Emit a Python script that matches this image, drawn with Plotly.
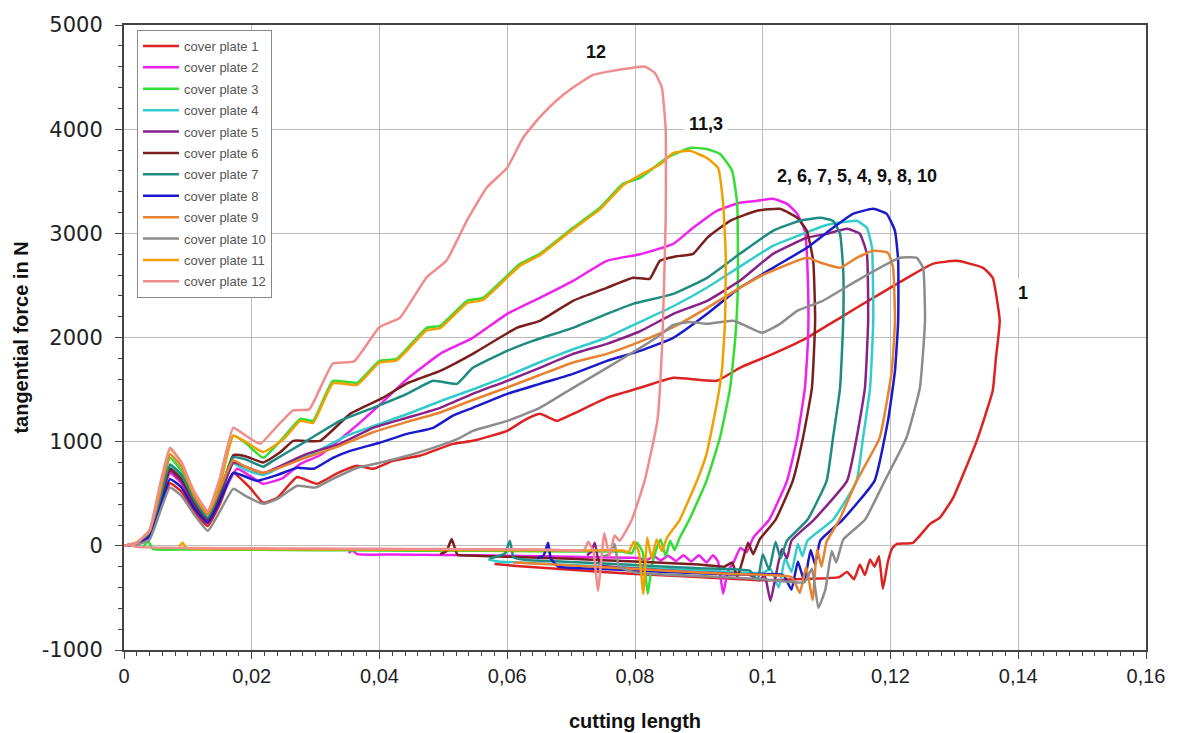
import plotly.graph_objects as go

# ---------------- data (x = cutting length, y = tangential force in N) ----------------
cp1 = [(0,0),(0.002,15),(0.004,80),(0.0055,320),(0.0072,600),(0.009,520),(0.011,330),(0.0131,190),(0.015,400),(0.0171,700),
       (0.0197,560),(0.0218,413),(0.024,461),(0.0271,660),(0.0302,595),(0.0335,700),(0.0365,768),(0.039,739),(0.0421,816),(0.0463,864),
       (0.0515,979),(0.0546,1008),(0.06,1104),(0.0625,1200),(0.0651,1267),(0.0678,1200),(0.0703,1267),(0.0756,1421),(0.0808,1517),(0.086,1613),
       (0.0928,1584),(0.0964,1709),(0.1016,1843),(0.1069,1997),(0.1121,2189),(0.1173,2381),(0.1226,2573),(0.1266,2707),(0.1304,2736),(0.1345,2669),
       (0.136,2573),(0.1371,2160),(0.1365,1800),(0.136,1488),(0.1335,1008),(0.1298,461),(0.1277,269),(0.1262,211),(0.1235,29),(0.121,19),
       (0.1203,-20),(0.1196,-150),(0.1188,-413),(0.1182,-100),(0.1175,-200),(0.1168,-130),(0.116,-280),(0.1152,-180),(0.1143,-320),(0.1132,-250),
       (0.112,-300),(0.110,-310),(0.105,-320),(0.1,-330),(0.09,-300),(0.08,-270),(0.07,-230),(0.062,-195),(0.058,-175)]

cp2 = [(0,0),(0.002,20),(0.004,100),(0.0055,380),(0.0072,700),(0.009,600),(0.011,380),(0.0131,230),(0.015,450),(0.0177,740),
       (0.0195,680),(0.0218,595),(0.0249,653),(0.0276,787),(0.0307,870),(0.0338,1020),(0.0369,1180),(0.0405,1380),(0.0443,1600),(0.0495,1843),
       (0.0546,1997),(0.06,2227),(0.0651,2381),(0.0703,2544),(0.0756,2736),(0.0808,2800),(0.086,2899),(0.0891,3053),(0.0928,3216),(0.0964,3293),
       (0.0991,3312),(0.1016,3331),(0.1038,3283),(0.1054,3187),(0.1066,3024),(0.1071,2477),(0.1071,1997),(0.1066,1517),(0.1054,1037),(0.1038,624),
       (0.101,250),(0.0985,77),(0.0975,-60),(0.0965,-20),(0.0955,-150),(0.0945,-250),(0.0938,-460),(0.093,-150),(0.0922,-90),(0.0912,-160),
       (0.09,-90),(0.0888,-150),(0.0876,-90),(0.0864,-145),(0.0852,-95),(0.084,-140),(0.083,-100),(0.082,-130),(0.08,-115),(0.07,-105),
       (0.06,-95),(0.05,-88),(0.042,-83),(0.0365,-80),(0.0357,-40),(0.0352,-70)]

cp3 = [(0,0),(0.002,20),(0.0035,60),(0.0055,450),(0.0072,845),(0.009,720),(0.011,480),(0.0131,300),(0.015,580),(0.0171,1060),
       (0.019,990),(0.0218,845),(0.0249,1037),(0.0276,1219),(0.0296,1200),(0.0327,1584),(0.0365,1565),(0.04,1776),(0.0427,1795),(0.0474,2093),
       (0.0495,2112),(0.0537,2352),(0.0562,2381),(0.062,2707),(0.0651,2803),(0.0703,3053),(0.0745,3245),(0.0781,3475),(0.0808,3533),(0.085,3725),
       (0.0886,3820),(0.0912,3810),(0.0933,3763),(0.0952,3600),(0.096,3283),(0.0961,2477),(0.0957,1997),(0.0949,1517),(0.0933,1037),(0.0912,624),
       (0.0885,250),(0.087,77),(0.0862,-40),(0.0855,50),(0.0848,-100),(0.084,60),(0.0832,-60),(0.0826,-200),(0.082,-460),(0.0812,-60),
       (0.0803,30),(0.0795,-70),(0.078,-55),(0.07,-55),(0.06,-50),(0.05,-47),(0.04,-45),(0.03,-42),(0.02,-38),(0.01,-35),
       (0.0045,-30),(0.0038,45),(0.003,-10)]

cp4 = [(0,0),(0.002,20),(0.004,110),(0.0055,400),(0.0072,760),(0.009,660),(0.011,430),(0.0131,250),(0.015,480),(0.0171,790),
       (0.019,730),(0.0218,680),(0.025,770),(0.03,900),(0.035,1060),(0.04,1170),(0.045,1280),(0.05,1400),(0.055,1510),(0.06,1630),
       (0.065,1760),(0.07,1880),(0.0756,2000),(0.0808,2150),(0.086,2300),(0.0913,2480),(0.0964,2680),(0.1016,2880),(0.1069,3010),(0.11,3080),
       (0.1147,3120),(0.1163,3053),(0.1171,2861),(0.1173,2160),(0.1168,1517),(0.1157,1037),(0.1147,624),(0.111,250),(0.107,50),(0.1062,-100),
       (0.1055,20),(0.1045,-250),(0.1035,-120),(0.1025,-400),(0.1012,-220),(0.1,-260),(0.09,-235),(0.08,-210),(0.07,-185),(0.063,-165),
       (0.0585,-150),(0.057,-130)]

cp5 = [(0,0),(0.002,20),(0.004,100),(0.0055,380),(0.0072,720),(0.009,620),(0.011,400),(0.0131,240),(0.015,470),(0.0171,800),
       (0.019,760),(0.0218,700),(0.0286,883),(0.0338,979),(0.039,1133),(0.0443,1229),(0.0495,1325),(0.0546,1459),(0.06,1584),(0.0651,1709),
       (0.0703,1843),(0.0756,1939),(0.0808,2060),(0.086,2227),(0.0913,2352),(0.0964,2544),(0.1016,2803),(0.1069,2957),(0.11,2995),(0.1132,3043),
       (0.1152,2995),(0.1163,2803),(0.1165,2160),(0.116,1517),(0.1147,1037),(0.1132,624),(0.108,250),(0.1045,50),(0.1038,-120),(0.103,-30),
       (0.102,-300),(0.1012,-530),(0.1003,-280),(0.0995,-330),(0.098,-280),(0.09,-255),(0.083,-230),(0.078,-210),(0.0748,-190),(0.0742,-120),
       (0.0737,30),(0.0731,-60),(0.0725,-90)]

cp6 = [(0,0),(0.002,20),(0.004,110),(0.0055,400),(0.0072,740),(0.009,640),(0.011,420),(0.0131,260),(0.015,500),(0.0171,870),
       (0.019,860),(0.0218,800),(0.0245,900),(0.0265,1008),(0.0307,1008),(0.0354,1267),(0.0405,1420),(0.0443,1560),(0.0495,1680),(0.0546,1843),
       (0.0615,2093),(0.0651,2160),(0.0703,2352),(0.0756,2477),(0.0797,2573),(0.0823,2563),(0.0839,2736),(0.0865,2780),(0.0891,2803),(0.0913,2957),
       (0.0949,3120),(0.0991,3216),(0.1027,3235),(0.1054,3149),(0.1069,3024),(0.1079,2736),(0.1082,2160),(0.1077,1517),(0.1063,1037),(0.1047,624),
       (0.102,250),(0.0995,60),(0.0985,-80),(0.0977,30),(0.0968,-150),(0.096,-300),(0.0952,-160),(0.094,-200),(0.09,-180),(0.08,-150),
       (0.07,-125),(0.06,-105),(0.054,-92),(0.0522,-85),(0.0513,65),(0.0505,-50),(0.0495,-80)]

cp7 = [(0,0),(0.002,20),(0.004,120),(0.0055,420),(0.0072,780),(0.009,680),(0.011,440),(0.0131,270),(0.015,520),(0.0171,850),
       (0.019,830),(0.0218,760),(0.0233,816),(0.0286,1008),(0.0338,1200),(0.039,1325),(0.0443,1459),(0.0484,1584),(0.0521,1555),(0.0546,1709),
       (0.06,1872),(0.064,1968),(0.0703,2093),(0.0756,2227),(0.0797,2323),(0.086,2419),(0.0913,2573),(0.0964,2803),(0.1016,3024),(0.1058,3120),
       (0.109,3149),(0.111,3120),(0.1121,2995),(0.1126,2640),(0.1126,2160),(0.1121,1517),(0.111,1037),(0.11,624),(0.107,250),(0.1038,50),
       (0.1028,-120),(0.102,40),(0.101,-230),(0.1,-80),(0.0992,-330),(0.098,-240),(0.09,-215),(0.08,-185),(0.07,-155),(0.063,-135),
       (0.061,-110),(0.0604,50),(0.0597,-70),(0.058,-110),(0.0572,-120)]

cp8 = [(0,0),(0.002,20),(0.004,90),(0.0055,330),(0.0072,640),(0.009,560),(0.011,360),(0.0131,220),(0.015,430),(0.0171,701),
       (0.0208,624),(0.024,680),(0.0271,749),(0.0297,740),(0.0327,845),(0.0354,912),(0.04,990),(0.0443,1075),(0.0484,1133),(0.0515,1250),
       (0.0546,1325),(0.06,1459),(0.0651,1555),(0.0703,1651),(0.0756,1776),(0.0808,1872),(0.086,1997),(0.0913,2227),(0.0964,2477),(0.1016,2669),
       (0.1069,2861),(0.111,3053),(0.1141,3187),(0.1173,3235),(0.1194,3187),(0.1207,3024),(0.1212,2736),(0.1212,2160),(0.1207,1680),(0.1196,1200),
       (0.1175,624),(0.1125,250),(0.109,50),(0.1082,-180),(0.1075,-40),(0.1065,-340),(0.1055,-150),(0.1045,-420),(0.1032,-280),(0.095,-275),
       (0.085,-250),(0.075,-222),(0.068,-200),(0.0668,-120),(0.0664,30),(0.0657,-90),(0.0647,-120)]

cp9 = [(0,0),(0.002,30),(0.004,140),(0.0055,480),(0.0072,880),(0.009,760),(0.011,480),(0.0131,300),(0.015,550),(0.0171,820),
       (0.019,760),(0.0218,700),(0.0286,850),(0.0338,960),(0.039,1090),(0.0443,1190),(0.0495,1280),(0.0546,1400),(0.06,1520),(0.0651,1640),
       (0.0703,1760),(0.0756,1843),(0.0808,1960),(0.086,2100),(0.0913,2285),(0.0964,2477),(0.1,2600),(0.1069,2765),(0.109,2720),(0.1121,2669),
       (0.1147,2765),(0.1173,2832),(0.1196,2813),(0.1204,2669),(0.1207,2160),(0.1202,1680),(0.1183,1037),(0.1147,624),(0.112,250),(0.110,40),
       (0.1092,-200),(0.1085,-30),(0.1078,-520),(0.1068,-200),(0.1058,-450),(0.1045,-300),(0.095,-270),(0.085,-240),(0.075,-205),(0.066,-175),
       (0.061,-160)]

cp10 = [(0,0),(0.002,10),(0.004,60),(0.0055,300),(0.0072,560),(0.009,480),(0.011,300),(0.0131,144),(0.015,330),(0.0171,547),
        (0.019,480),(0.0218,403),(0.024,450),(0.0271,576),(0.030,560),(0.0327,643),(0.0365,749),(0.04,797),(0.0432,845),(0.0484,941),
        (0.0526,1037),(0.0546,1104),(0.06,1200),(0.0651,1325),(0.0703,1517),(0.0756,1709),(0.0808,1900),(0.0834,2000),(0.086,2120),(0.0886,2150),
        (0.0913,2131),(0.0954,2160),(0.098,2093),(0.0999,2045),(0.1027,2131),(0.1054,2256),(0.1094,2352),(0.1147,2544),(0.1183,2669),(0.1215,2765),
        (0.1241,2765),(0.1251,2669),(0.1254,2160),(0.1246,1517),(0.1225,1037),(0.1191,624),(0.116,250),(0.1126,60),(0.1115,-160),(0.1108,-50),
        (0.1098,-420),(0.1087,-595),(0.1077,-220),(0.1065,-350),(0.1,-320),(0.09,-290),(0.08,-255),(0.0775,-200),(0.0768,20),(0.076,-80),
        (0.075,-100)]

cp11 = [(0,0),(0.002,30),(0.004,150),(0.0055,520),(0.0072,930),(0.009,800),(0.011,500),(0.0131,330),(0.015,600),(0.0171,1056),
        (0.019,1000),(0.0218,900),(0.0249,1020),(0.0276,1200),(0.0296,1180),(0.0327,1560),(0.0365,1545),(0.04,1760),(0.0427,1780),(0.0474,2070),
        (0.0495,2090),(0.0537,2330),(0.0562,2360),(0.062,2690),(0.0651,2790),(0.0703,3040),(0.0745,3230),(0.0781,3460),(0.0808,3560),(0.0839,3660),
        (0.086,3773),(0.0886,3792),(0.0912,3725),(0.093,3629),(0.0938,3283),(0.0942,2803),(0.0941,2160),(0.0936,1680),(0.0928,1363),(0.0912,883),
        (0.0897,624),(0.087,250),(0.085,77),(0.0842,-50),(0.0834,60),(0.0826,-120),(0.0819,80),(0.0813,-460),(0.0806,-60),(0.0798,40),
        (0.079,-60),(0.078,-45),(0.07,-45),(0.06,-42),(0.05,-40),(0.04,-37),(0.03,-34),(0.02,-30),(0.012,-28),(0.0097,-20),
        (0.0092,30),(0.0086,-5)]

cp12 = [(0,0),(0.002,30),(0.004,150),(0.0055,550),(0.0072,941),(0.009,800),(0.011,520),(0.0131,336),(0.015,650),(0.0171,1133),
        (0.019,1060),(0.0213,980),(0.024,1150),(0.0265,1300),(0.029,1310),(0.0327,1750),(0.036,1770),(0.04,2100),(0.0432,2190),(0.0474,2580),
        (0.0505,2740),(0.0537,3125),(0.0568,3440),(0.06,3630),(0.0625,3920),(0.0651,4115),(0.0678,4280),(0.0703,4400),(0.0734,4520),(0.0756,4550),
        (0.0797,4590),(0.0816,4600),(0.0831,4540),(0.0842,4400),(0.0848,4000),(0.0848,3125),(0.0843,2000),(0.0835,1200),(0.0815,624),(0.0795,250),
        (0.0776,50),(0.0768,100),(0.076,-100),(0.0752,120),(0.0742,-433),(0.0735,-60),(0.0727,40),(0.072,-40),(0.065,-35),(0.055,-32),
        (0.045,-30),(0.035,-28),(0.025,-25),(0.015,-22),(0.006,-18),(0.002,-10),(0.001,5)]

series_names = ["cover plate 1", "cover plate 2", "cover plate 3", "cover plate 4", "cover plate 5", "cover plate 6",
                "cover plate 7", "cover plate 8", "cover plate 9", "cover plate 10", "cover plate 11", "cover plate 12"]
series_data = [cp1, cp2, cp3, cp4, cp5, cp6, cp7, cp8, cp9, cp10, cp11, cp12]
series_colors = ["#DD2222", "#EE22EE", "#33DD33", "#33CCCC", "#882288", "#7A1E1E",
                 "#1E8C82", "#1A1ACC", "#E8822E", "#8C8C8C", "#F0A000", "#F08C8C"]

x_ticks = [0, 0.02, 0.04, 0.06, 0.08, 0.1, 0.12, 0.14, 0.16]
x_tick_labels = ["0", "0,02", "0,04", "0,06", "0,08", "0,1", "0,12", "0,14", "0,16"]
y_ticks = [-1000, 0, 1000, 2000, 3000, 4000, 5000]
y_tick_labels = ["-1000", "0", "1000", "2000", "3000", "4000", "5000"]

label_texts = ["12", "11,3", "2, 6, 7, 5, 4, 9, 8, 10", "1"]
label_x = [0.0739, 0.0911, 0.1147, 0.1407]
label_y = [4740, 4050, 3550, 2430]

# ---------------- figure ----------------
fig = go.Figure()
for i, (name, pts, col) in enumerate(zip(series_names, series_data, series_colors)):
    xs = [p[0] for p in pts]
    ys = [p[1] for p in pts]
    fig.add_trace(go.Scatter(x=xs, y=ys, mode="lines", name=name, legendgroup=f"g{i}",
                             line=dict(color=col, width=2.5, shape="spline", smoothing=0.4)))

for t, ax_, ay_ in zip(label_texts, label_x, label_y):
    fig.add_annotation(x=ax_, y=ay_, text=t, showarrow=False, bgcolor="white", borderpad=4,
                       font=dict(family="Liberation Sans, Arial", size=18, color="#111111", weight="bold"))

axis_common = dict(showgrid=True, gridcolor="#BBBBBB", gridwidth=1, showline=True, linecolor="#444444",
                   linewidth=2, mirror=True, ticks="outside", ticklen=7, tickcolor="#444444", zeroline=False,
                   automargin=False)

fig.update_layout(
    width=1177, height=733,
    margin=dict(l=124, r=31, t=25, b=83),
    paper_bgcolor="white", plot_bgcolor="white",
    font=dict(family="Liberation Sans, Arial", color="#222222"),
    showlegend=True,
    legend=dict(x=0.0127, y=0.992, xanchor="left", yanchor="top", bgcolor="white",
                bordercolor="#888888", borderwidth=1, tracegroupgap=1.5, itemwidth=36,
                font=dict(family="Liberation Sans, Arial", size=13, color="#555555")),
    xaxis=dict(range=[0, 0.16], tickmode="array", tickvals=x_ticks, ticktext=x_tick_labels,
               tickfont=dict(size=20, family="Liberation Sans, Arial", color="#222222"),
               minor=dict(tick0=0, dtick=0.002, ticks="outside", ticklen=4, tickcolor="#444444", showgrid=False),
               title=dict(text="cutting length", standoff=28,
                          font=dict(size=20, family="Liberation Sans, Arial", color="#111111", weight="bold")),
               **axis_common),
    yaxis=dict(range=[-1000, 5000], tickmode="array", tickvals=y_ticks, ticktext=y_tick_labels,
               ticklabelstandoff=8,
               tickfont=dict(size=21, family="DejaVu Sans, Arial", color="#222222"),
               minor=dict(tick0=0, dtick=200, ticks="outside", ticklen=4, tickcolor="#444444", showgrid=False),
               title=dict(text="tangential force in N", standoff=8,
                          font=dict(size=20, family="Liberation Sans, Arial", color="#111111", weight="bold")),
               **axis_common),
)

fig.write_html("out.html", config={"displayModeBar": False},
               post_script="document.body.style.margin='0';document.body.style.overflow='hidden';")
